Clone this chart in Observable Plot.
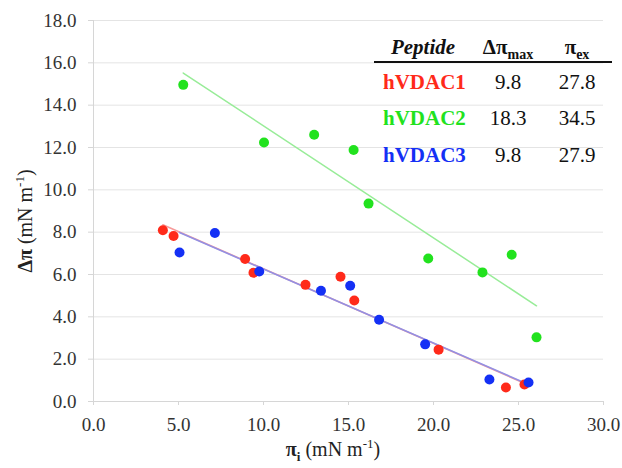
<!DOCTYPE html>
<html><head><meta charset="utf-8">
<script src="https://cdn.jsdelivr.net/npm/d3@7"></script>
<script src="https://cdn.jsdelivr.net/npm/@observablehq/plot@0.6"></script>
<style>
body{margin:0;background:#fff}
#chart svg, #chart svg text, #chart svg tspan { font-family: 'Liberation Serif', 'Times New Roman', serif !important; }
</style>
</head><body><div id="chart"></div>
<script>
// Table / series metadata
const peptides = ["hVDAC1", "hVDAC2", "hVDAC3"];
const dotColors = ["#ff2a1a", "#22e21e", "#1430f5"];
const lineColors = ["#f79a9a", "#98ec98", "#9290e4"];
const dpiMax = ["9.8", "18.3", "9.8"];
const piEx = ["27.8", "34.5", "27.9"];

// hVDAC1 (red)
const v1X = [4.08, 4.71, 8.92, 9.41, 12.47, 14.53, 15.34, 20.3, 24.26, 25.35];
const v1Y = [8.09, 7.82, 6.73, 6.08, 5.51, 5.89, 4.77, 2.45, 0.66, 0.80];
// hVDAC2 (green)
const v2X = [5.28, 10.03, 12.98, 15.3, 16.18, 19.69, 22.88, 24.6, 26.06];
const v2Y = [14.96, 12.24, 12.6, 11.88, 9.35, 6.76, 6.1, 6.93, 3.03];
// hVDAC3 (blue)
const v3X = [5.06, 7.14, 9.75, 13.38, 15.1, 16.8, 19.51, 23.29, 25.59];
const v3Y = [7.04, 7.96, 6.14, 5.23, 5.47, 3.86, 2.7, 1.04, 0.90];

const xTicks = [0, 5, 10, 15, 20, 25, 30];
const yTicks = [0, 2, 4, 6, 8, 10, 12, 14, 16, 18];

const toRows = (xs, ys) => xs.map((x, i) => ({x, y: ys[i]}));
const d1 = toRows(v1X, v1Y), d2 = toRows(v2X, v2Y), d3s = toRows(v3X, v3Y);

const fmt = d => d.toFixed(1);
const serif = "'Liberation Serif', 'Times New Roman', serif";

const svg = Plot.plot({
  width: 622,
  height: 468,
  marginLeft: 93,
  marginRight: 19,
  marginTop: 20,
  marginBottom: 67,
  style: {fontFamily: serif, fontSize: "19px", background: "#fff"},
  x: {domain: [0, 30]},
  y: {domain: [0, 18]},
  marks: [
    Plot.ruleY(yTicks.slice(1), {stroke: "#e4e4e4", strokeWidth: 1}),
    Plot.ruleY([0], {stroke: "#d6d6d6", strokeWidth: 1}),
    Plot.ruleX([0], {stroke: "#d6d6d6", strokeWidth: 1}),
    Plot.axisY({ticks: yTicks, tickFormat: fmt, tickSize: 5, tickPadding: 12, stroke: "#d6d6d6", fill: "#333", label: null}),
    Plot.axisX({ticks: xTicks, tickFormat: fmt, tickSize: 4, tickPadding: 12, stroke: "#d6d6d6", fill: "#333", label: null}),
    Plot.linearRegressionY(d2, {x: "x", y: "y", stroke: lineColors[1], strokeWidth: 1.5, ci: 0}),
    Plot.linearRegressionY(d1, {x: "x", y: "y", stroke: lineColors[0], strokeWidth: 1.6, ci: 0}),
    Plot.linearRegressionY(d3s, {x: "x", y: "y", stroke: lineColors[2], strokeWidth: 1.6, ci: 0}),
    Plot.dot(d1, {x: "x", y: "y", r: 5, fill: dotColors[0]}),
    Plot.dot(d2, {x: "x", y: "y", r: 5, fill: dotColors[1]}),
    Plot.dot(d3s, {x: "x", y: "y", r: 5, fill: dotColors[2]})
  ]
});

document.getElementById("chart").appendChild(svg);

const s = d3.select(svg);

// Axis titles
const yl = s.append("text")
  .attr("transform", "translate(32,221) rotate(-90)")
  .attr("text-anchor", "middle")
  .attr("font-family", serif).attr("font-size", 20).attr("fill", "#222");
yl.append("tspan").attr("font-weight", "bold").text("Δπ");
yl.append("tspan").text(" (mN m");
yl.append("tspan").attr("font-size", 13).attr("dy", -8).text("-1");
yl.append("tspan").attr("dy", 8).text(")");

const xl = s.append("text")
  .attr("x", 333).attr("y", 456)
  .attr("text-anchor", "middle")
  .attr("font-family", serif).attr("font-size", 20).attr("fill", "#222");
xl.append("tspan").attr("font-weight", "bold").text("π");
xl.append("tspan").attr("font-weight", "bold").attr("font-size", 13).attr("dy", 5).text("i");
xl.append("tspan").attr("dy", -5).text(" (mN m");
xl.append("tspan").attr("font-size", 13).attr("dy", -8).text("-1");
xl.append("tspan").attr("dy", 8).text(")");

// Table
const tbl = s.append("g").attr("font-family", serif).attr("fill", "#111");
tbl.append("text").attr("x", 423).attr("y", 54).attr("text-anchor", "middle")
  .attr("font-size", 21).attr("font-weight", "bold").attr("font-style", "italic").text("Peptide");
const h2 = tbl.append("text").attr("x", 508).attr("y", 54).attr("text-anchor", "middle")
  .attr("font-size", 21).attr("font-weight", "bold");
h2.append("tspan").text("Δπ");
h2.append("tspan").attr("font-size", 14).attr("dy", 5).text("max");
const h3 = tbl.append("text").attr("x", 577).attr("y", 54).attr("text-anchor", "middle")
  .attr("font-size", 21).attr("font-weight", "bold");
h3.append("tspan").text("π");
h3.append("tspan").attr("font-size", 14).attr("dy", 5).text("ex");
tbl.append("line").attr("x1", 374).attr("x2", 612).attr("y1", 62).attr("y2", 62)
  .attr("stroke", "#111").attr("stroke-width", 2);
const rowY = [89, 124.5, 161.5];
peptides.forEach((p, i) => {
  tbl.append("text").attr("x", 383).attr("y", rowY[i]).attr("font-size", 21)
    .attr("text-anchor", "start")
    .attr("font-weight", "bold").attr("fill", dotColors[i]).text(p);
  tbl.append("text").attr("x", 508).attr("y", rowY[i]).attr("text-anchor", "middle")
    .attr("font-size", 21).text(dpiMax[i]);
  tbl.append("text").attr("x", 577).attr("y", rowY[i]).attr("text-anchor", "middle")
    .attr("font-size", 21).text(piEx[i]);
});
</script>
</body></html>
